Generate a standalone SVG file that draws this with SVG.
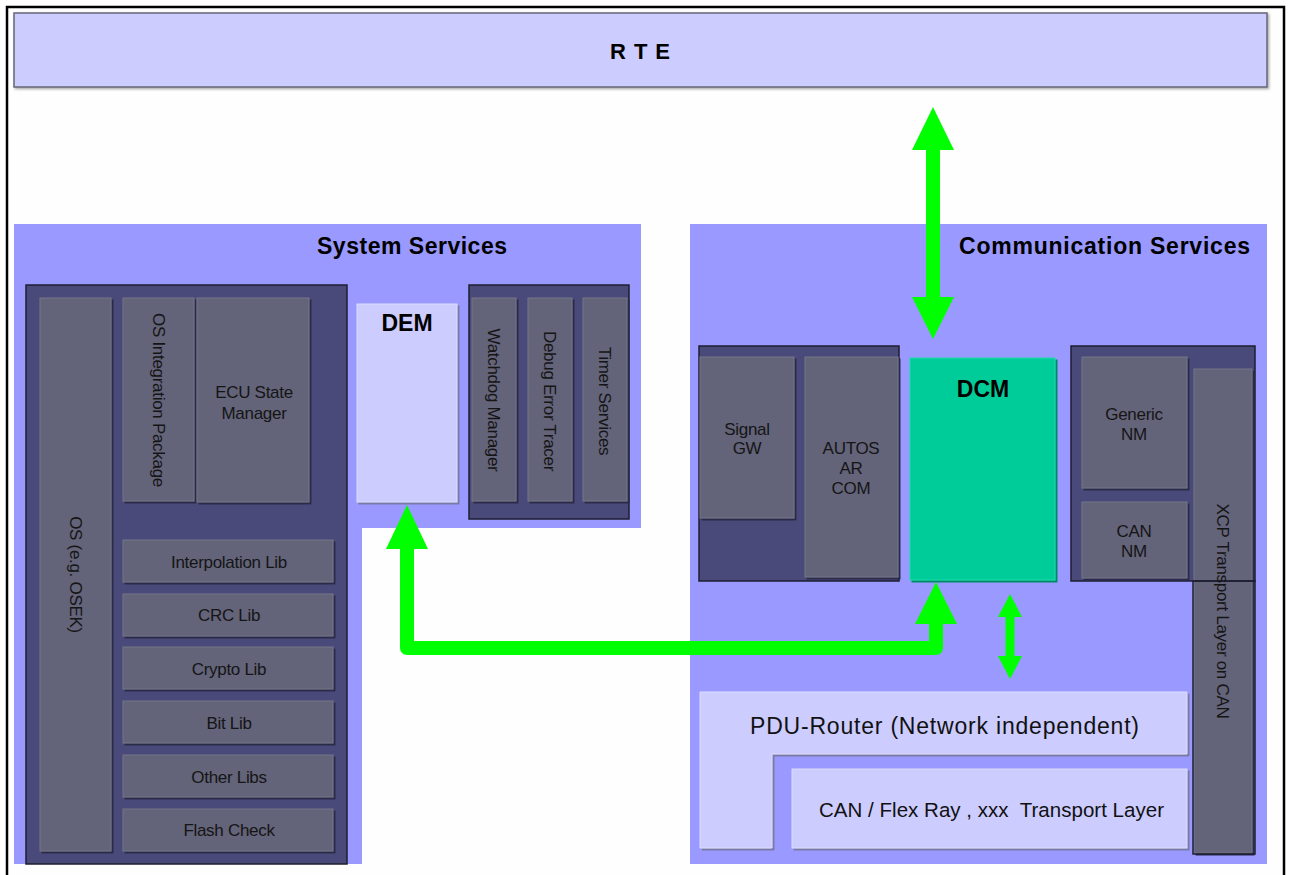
<svg xmlns="http://www.w3.org/2000/svg" width="1291" height="875" viewBox="0 0 1291 875">
<style>
.panel{fill:#9999ff}
.grp{fill:#4a4a7a;stroke:#1e1e32;stroke-width:1.5}
.box{fill:#646479;stroke:#75758a;stroke-width:1;filter:url(#sh)}
.lt{fill:#ccccff;stroke:#dcdcff;stroke-width:1;filter:url(#shl)}
.t{font-family:"Liberation Sans",Arial,sans-serif;font-size:17px;fill:#151515;letter-spacing:-0.3px;text-anchor:middle}
.b{font-family:"Liberation Sans",Arial,sans-serif;font-weight:bold;fill:#000}
.arr{fill:#00ff00}
</style>
<defs>
<filter id="sh" x="-10%" y="-10%" width="130%" height="130%"><feDropShadow dx="2" dy="2" stdDeviation="0.6" flood-color="#2a2a48" flood-opacity="1"/></filter>
<filter id="shl" x="-10%" y="-10%" width="130%" height="130%"><feDropShadow dx="2" dy="2" stdDeviation="0.6" flood-color="#7a7aa8" flood-opacity="1"/></filter>
<filter id="shg" x="-10%" y="-10%" width="130%" height="130%"><feDropShadow dx="2" dy="2" stdDeviation="0.6" flood-color="#008a68" flood-opacity="1"/></filter>
<filter id="shr" x="-5%" y="-10%" width="110%" height="130%"><feDropShadow dx="1.5" dy="1.5" stdDeviation="0.8" flood-color="#aaaaaa" flood-opacity="1"/></filter>
</defs>
<rect x="0" y="0" width="1291" height="875" fill="#ffffff"/>
<rect x="7" y="7" width="1277" height="900" fill="#fefefe" stroke="#000" stroke-width="2.5"/>

<g id="rte">
<rect x="14" y="13" width="1253" height="74" fill="#ccccff" stroke="#666678" stroke-width="1.5" filter="url(#shr)"/>
<text class="b" x="610" y="59" font-size="22" textLength="60" lengthAdjust="spacing">R T E</text>
</g>

<g id="system-services">
<path class="panel" d="M14,224 H641 V528 H362 V864 H14 Z"/>
<text class="b" x="317" y="254" font-size="23" textLength="190" lengthAdjust="spacing">System Services</text>
</g>

<g id="os-group">
<rect class="grp" x="26" y="285" width="321" height="579"/>
</g>
<g id="os">
<rect class="box" x="40" y="298" width="71" height="553"/>
<text class="t" transform="translate(75.5,574.5) rotate(90)" y="6">OS (e.g. OSEK)</text>
</g>
<g id="os-integration">
<rect class="box" x="123" y="298" width="71" height="203"/>
<text class="t" transform="translate(158.5,400) rotate(90)" y="6">OS Integration Package</text>
</g>
<g id="ecu-state-manager">
<rect class="box" x="197" y="298" width="112" height="204"/>
<text class="t" x="254" y="398">ECU State</text>
<text class="t" x="254" y="419">Manager</text>
</g>
<g id="interpolation-lib">
<rect class="box" x="123" y="540" width="210" height="42"/>
<text class="t" x="229" y="568">Interpolation Lib</text>
</g>
<g id="crc-lib">
<rect class="box" x="123" y="594" width="210" height="42"/>
<text class="t" x="229" y="621">CRC Lib</text>
</g>
<g id="crypto-lib">
<rect class="box" x="123" y="647" width="210" height="42"/>
<text class="t" x="229" y="675">Crypto Lib</text>
</g>
<g id="bit-lib">
<rect class="box" x="123" y="701" width="210" height="42"/>
<text class="t" x="229" y="729">Bit Lib</text>
</g>
<g id="other-libs">
<rect class="box" x="123" y="755" width="210" height="42"/>
<text class="t" x="229" y="783">Other Libs</text>
</g>
<g id="flash-check">
<rect class="box" x="123" y="809" width="210" height="42"/>
<text class="t" x="229" y="836">Flash Check</text>
</g>

<g id="dem">
<rect class="lt" x="357" y="304" width="100" height="198"/>
<text class="b" x="407" y="331" font-size="23" text-anchor="middle">DEM</text>
</g>

<g id="wd-group">
<rect class="grp" x="469" y="285" width="160" height="234"/>
</g>
<g id="watchdog-manager">
<rect class="box" x="472" y="298" width="44" height="203"/>
<text class="t" transform="translate(494,400) rotate(90)" y="6">Watchdog Manager</text>
</g>
<g id="debug-error-tracer">
<rect class="box" x="528" y="298" width="44" height="203"/>
<text class="t" transform="translate(550,401) rotate(90)" y="6">Debug Error Tracer</text>
</g>
<g id="timer-services">
<rect class="box" x="583" y="298" width="44" height="203"/>
<text class="t" transform="translate(605,401) rotate(90)" y="6">Timer Services</text>
</g>

<g id="communication-services">
<rect class="panel" x="690" y="224" width="577" height="640"/>
<text class="b" x="959" y="254" font-size="23" textLength="291" lengthAdjust="spacing">Communication Services</text>
</g>

<g id="com-left-group">
<rect class="grp" x="699" y="346" width="200" height="235"/>
</g>
<g id="signal-gw">
<rect class="box" x="700" y="357" width="94" height="161"/>
<text class="t" x="747" y="435">Signal</text>
<text class="t" x="747" y="454">GW</text>
</g>
<g id="autosar-com">
<rect class="box" x="805" y="357" width="93" height="220"/>
<text class="t" x="851" y="454">AUTOS</text>
<text class="t" x="851" y="474">AR</text>
<text class="t" x="851" y="494">COM</text>
</g>

<g id="dcm">
<rect x="910" y="358" width="145" height="222" fill="#00cc99" stroke="#22dcae" stroke-width="1" filter="url(#shg)"/>
<text class="b" x="983" y="397" font-size="23" text-anchor="middle">DCM</text>
</g>

<g id="com-right-group">
<rect class="grp" x="1071" y="346" width="184" height="235"/>
</g>
<g id="generic-nm">
<rect class="box" x="1082" y="357" width="105" height="131"/>
<text class="t" x="1134" y="420">Generic</text>
<text class="t" x="1134" y="440">NM</text>
</g>
<g id="can-nm">
<rect class="box" x="1082" y="502" width="105" height="76"/>
<text class="t" x="1134" y="537">CAN</text>
<text class="t" x="1134" y="557">NM</text>
</g>
<g id="xcp">
<rect class="box" x="1194" y="369" width="58" height="484"/>
<path d="M1193,581 V854 H1255 V581 Z" fill="none" stroke="#1e1e32" stroke-width="1.5"/>
<line x1="1193" y1="581" x2="1255" y2="581" stroke="#1e1e32" stroke-width="1.5"/>
<text class="t" transform="translate(1223,611) rotate(90)" y="6">XCP Transport Layer on CAN</text>
</g>

<g id="pdu-router">
<path class="lt" d="M700,692 H1187 V754 H772 V848 H700 Z"/>
<text font-family="'Liberation Sans',Arial,sans-serif" font-size="23" fill="#111" x="750" y="734" textLength="389" lengthAdjust="spacing">PDU-Router (Network independent)</text>
</g>

<g id="transport-layer">
<rect class="lt" x="792" y="769" width="395" height="79"/>
<text font-family="'Liberation Sans',Arial,sans-serif" font-size="20.5" fill="#111" x="819" y="817" textLength="345" lengthAdjust="spacing" xml:space="preserve">CAN / Flex Ray , xxx  Transport Layer</text>
</g>

<g id="connectors">
<polygon class="arr" points="933,107 954,150 940,150 940,297 954,297 933,339 912,297 926,297 926,150 912,150"/>
<path d="M407,546 V648 H936 V622" fill="none" stroke="#00ff00" stroke-width="14" stroke-linejoin="round"/>
<polygon class="arr" points="407,505 428,549 386,549"/>
<polygon class="arr" points="936,582 957,624 915,624"/>
<polygon class="arr" points="1010,594 1022,617 1014.5,617 1014.5,656 1022,656 1010,679 998,656 1005.5,656 1005.5,617 998,617"/>
</g>
</svg>
